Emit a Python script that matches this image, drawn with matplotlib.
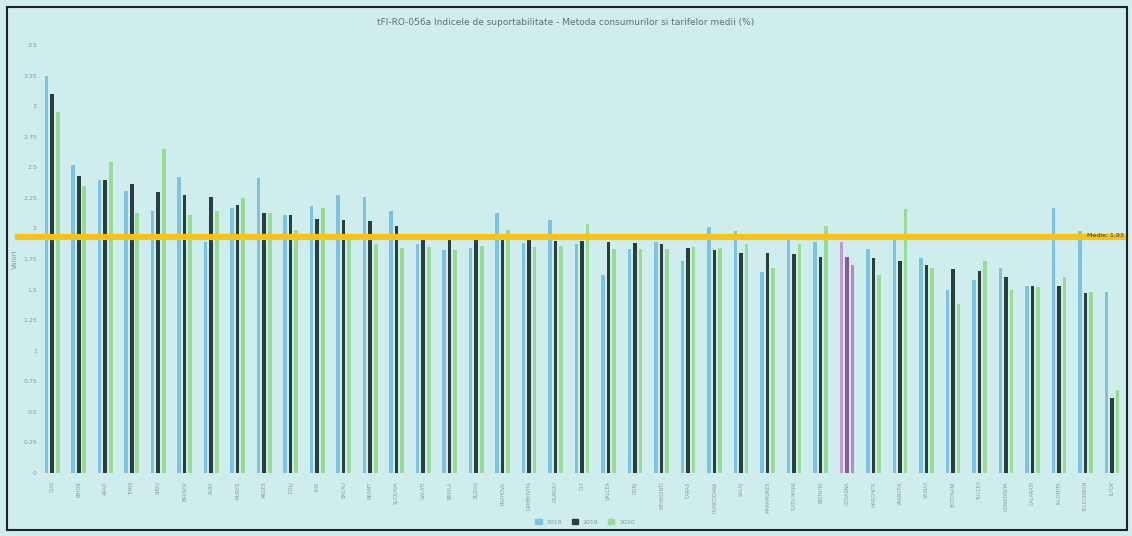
import matplotlib.pyplot as plt
from matplotlib.patches import Rectangle
import numpy as np

labels = ["CLUJ", "BIHOR", "ARAD", "TIMIS", "SIBIU", "BRASOV", "ALBA", "MURES",
          "ARGES", "DOLJ", "IASI", "BACAU", "NEAMT", "SUCEAVA", "GALATI", "BRAILA",
          "BUZAU", "PRAHOVA", "DAMBOVITA", "GIURGIU", "OLT", "VALCEA", "GORJ",
          "MEHEDINTI", "CARAS", "HUNEDOARA", "SALAJ", "MARAMURES", "SATU MARE",
          "BISTRITA", "COVASNA", "HARGHITA", "VRANCEA", "VASLUI", "BOTOSANI",
          "TULCEA", "CONSTANTA", "CALARASI", "IALOMITA", "TELEORMAN", "ILFOV"]

v2018 = [3.25, 2.52, 2.40, 2.31, 2.14, 2.42, 1.89, 2.17, 2.41, 2.11, 2.18, 2.27,
         2.26, 2.14, 1.87, 1.82, 1.84, 2.13, 1.88, 2.07, 1.87, 1.62, 1.83, 1.89,
         1.73, 2.01, 1.98, 1.64, 1.91, 1.89, 1.89, 1.83, 1.91, 1.76, 1.50, 1.58,
         1.68, 1.53, 2.17, 1.98, 1.48]
v2019 = [3.10, 2.43, 2.40, 2.36, 2.30, 2.27, 2.26, 2.19, 2.13, 2.11, 2.08, 2.07,
         2.06, 2.02, 1.92, 1.91, 1.91, 1.91, 1.91, 1.90, 1.90, 1.89, 1.88, 1.87,
         1.84, 1.82, 1.80, 1.80, 1.79, 1.77, 1.77, 1.76, 1.73, 1.70, 1.67, 1.65,
         1.60, 1.53, 1.53, 1.47, 0.61]
v2020 = [2.95, 2.35, 2.54, 2.13, 2.65, 2.11, 2.14, 2.25, 2.13, 1.99, 2.17, 1.95,
         1.87, 1.84, 1.85, 1.82, 1.86, 1.99, 1.85, 1.86, 2.04, 1.83, 1.83, 1.83,
         1.85, 1.84, 1.87, 1.68, 1.87, 2.02, 1.70, 1.62, 2.16, 1.68, 1.38, 1.73,
         1.50, 1.52, 1.60, 1.48, 0.68]
years = ["2018", "2019", "2020"]
media = 1.93
highlight = 30  # grupul evidentiat (mov)

bg = "#cfeded"
c_blue = "#7cc3e2"
c_dark = "#2c3d3e"
c_green = "#98db94"
c_hl = ["#c49ad0", "#8a5a93", "#b48cc0"]

fig = plt.figure(figsize=(11.32, 5.36), dpi=100, facecolor=bg)
ax = fig.add_axes([0.040, 0.1175, 0.954, 0.7985], facecolor=bg)

x = np.arange(len(labels))
w = 0.14
off = 0.21
cols_b = [c_hl[0] if i == highlight else c_blue for i in x]
cols_d = [c_hl[1] if i == highlight else c_dark for i in x]
cols_g = [c_hl[2] if i == highlight else c_green for i in x]
ax.bar(x - off, v2018, w, color=cols_b, label=years[0])
ax.bar(x, v2019, w, color=cols_d, label=years[1])
ax.bar(x + off, v2020, w, color=cols_g, label=years[2])

ax.axhline(media, xmin=-0.025, xmax=1.0, color="#f6c21c", lw=4.5, zorder=5, clip_on=False)
ax.text(40.45, media + 0.015, "Medie: 1,93", fontsize=4.5, color="#333333",
        ha="right", va="center", zorder=6)

ax.set_xlim(-0.26, 40.5)
ax.set_ylim(0, 3.5)
ax.set_yticks(np.arange(0, 3.51, 0.25))
ax.set_yticklabels([f"{t:g}" for t in np.arange(0, 3.51, 0.25)], fontsize=4.5, color="#8a9a9a")
ax.set_xticks(x)
ax.set_xticklabels(labels, rotation=90, fontsize=3.5, color="#8a9a9a")
ax.tick_params(length=0, pad=6)
ax.set_ylabel("Valori", fontsize=5, color="#8a9a9a", labelpad=4)
for s in ax.spines.values():
    s.set_visible(False)

fig.text(0.5, 0.958, "tFI-RO-056a Indicele de suportabilitate - Metoda consumurilor si tarifelor medii (%)",
         ha="center", va="center", fontsize=6.5, color="#607070")

leg = ax.legend(loc="upper center", bbox_to_anchor=(0.5, -0.095), ncol=3, frameon=False,
                fontsize=4.5, handlelength=1.0, handleheight=0.8, columnspacing=1.5)
for t in leg.get_texts():
    t.set_color("#8a9a9a")
leg.legend_handles[0].set_color(c_blue)
leg.legend_handles[1].set_color(c_dark)
leg.legend_handles[2].set_color(c_green)

fig.patches.append(Rectangle((0.006, 0.012), 0.99, 0.975, transform=fig.transFigure,
                             fill=False, edgecolor="#222222", lw=1.5))

fig.savefig("out.png", dpi=100, facecolor=bg)
